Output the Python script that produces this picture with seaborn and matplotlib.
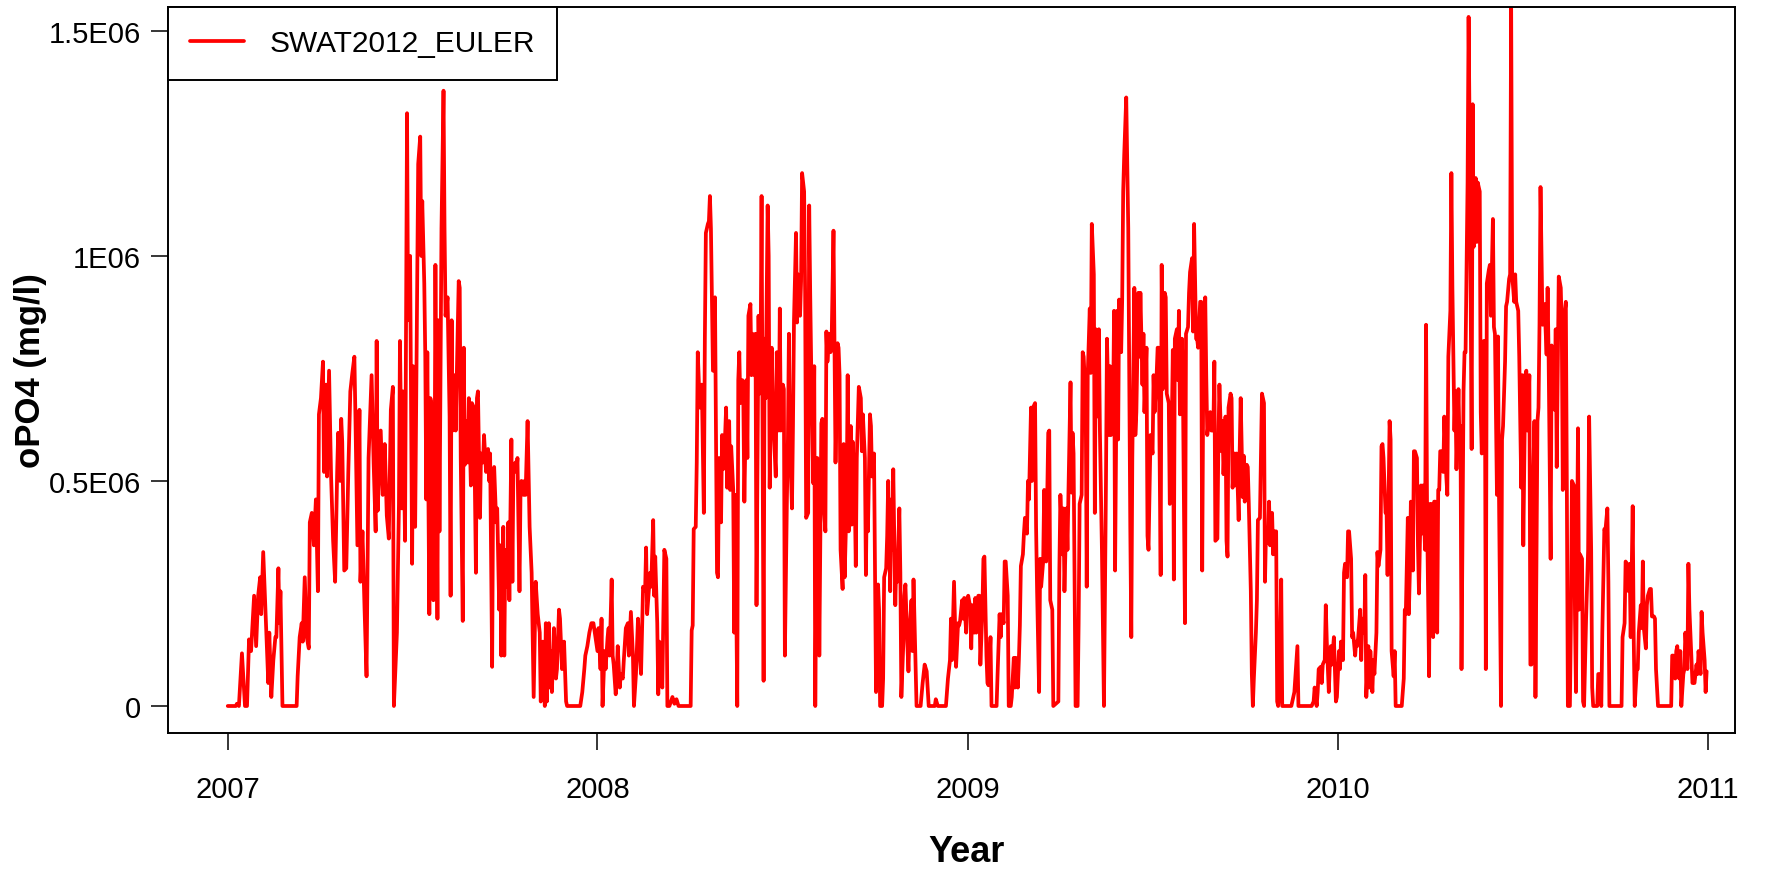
import numpy as np
import pandas as pd
import matplotlib
matplotlib.use("Agg")
import matplotlib.pyplot as plt
import matplotlib.dates as mdates
import seaborn as sns

# Simulated daily orthophosphate (SWAT2012, Euler scheme).
# doy_YYYY: day of year (0 = 1 January); opo4_YYYY: value in thousands of mg/l.
doy_2007 = [0, 8, 9, 11, 14, 17, 19, 21, 23, 26, 28, 30, 32, 33, 35, 37, 38, 40, 41, 43,
            45, 47, 48, 50, 51, 52, 54, 68, 69, 71, 73, 74, 76, 78, 80, 81, 83, 85, 87, 89,
            90, 92, 94, 95, 97, 98, 100, 102, 104, 106, 108, 109, 111, 112, 113, 115, 117, 119, 121, 123,
            125, 126, 128, 130, 131, 133, 135, 137, 139, 142, 144, 146, 147, 148, 151, 153, 155, 157, 159, 161,
            163, 164, 167, 169, 170, 172, 173, 175, 177, 178, 180, 181, 182, 183, 185, 187, 188, 190, 191, 192,
            194, 195, 196, 197, 199, 200, 201, 203, 204, 205, 207, 208, 209, 211, 213, 214, 215, 217, 219, 220,
            221, 222, 224, 225, 226, 228, 229, 230, 232, 233, 234, 236, 237, 238, 240, 241, 243, 245, 246, 247,
            249, 250, 252, 253, 255, 257, 258, 259, 261, 262, 263, 265, 266, 268, 269, 270, 272, 273, 274, 276,
            277, 278, 280, 281, 282, 284, 285, 286, 288, 289, 290, 292, 293, 294, 296, 298, 300, 302, 304, 306,
            308, 309, 311, 313, 314, 315, 317, 318, 319, 320, 322, 324, 325, 327, 328, 330, 332, 334, 335, 348,
            350, 352, 353, 355, 357, 359, 361, 363]
opo4_2007 = [0, 0, 5, 0, 117, 0, 0, 148, 122, 245, 133, 245, 286, 204, 342, 224, 163, 51, 163, 20,
             102, 153, 153, 306, 184, 255, 0, 0, 66, 153, 184, 143, 286, 153, 128, 408, 429, 357, 459, 255,
             648, 684, 765, 520, 714, 510, 745, 510, 367, 276, 520, 607, 500, 638, 587, 301, 306, 520, 699, 740,
             776, 648, 357, 658, 276, 388, 219, 66, 551, 735, 541, 388, 811, 434, 612, 469, 582, 423, 372, 658,
             709, 0, 163, 449, 811, 439, 699, 367, 1317, 857, 1000, 653, 316, 755, 398, 929, 1204, 1265, 1000, 1122,
             939, 776, 459, 786, 204, 684, 673, 235, 357, 980, 194, 857, 388, 1061, 1367, 1061, 867, 908, 643, 245,
             857, 612, 735, 612, 724, 944, 929, 551, 189, 796, 536, 633, 541, 684, 490, 673, 663, 296, 684, 699,
             418, 561, 541, 602, 520, 571, 500, 561, 87, 500, 531, 408, 439, 214, 357, 112, 398, 112, 347, 265,
             408, 235, 592, 276, 531, 541, 520, 551, 255, 474, 500, 469, 500, 469, 633, 398, 296, 20, 276, 204,
             163, 10, 143, 0, 184, 10, 184, 41, 122, 31, 173, 61, 82, 214, 194, 82, 143, 10, 0, 0,
             31, 82, 112, 133, 163, 184, 184, 153]

doy_2008 = [0, 1, 3, 4, 5, 7, 8, 10, 11, 12, 14, 15, 16, 18, 19, 20, 22, 23, 25, 26,
            28, 30, 31, 32, 33, 35, 36, 38, 40, 41, 43, 45, 47, 48, 49, 51, 52, 53, 55, 56,
            57, 59, 60, 61, 62, 64, 65, 66, 68, 69, 71, 74, 76, 78, 80, 92, 93, 94, 95, 97,
            98, 99, 101, 102, 103, 105, 106, 107, 109, 110, 111, 112, 114, 115, 116, 118, 119, 120, 122, 123,
            124, 126, 127, 128, 130, 131, 132, 134, 135, 136, 138, 139, 140, 141, 143, 144, 145, 147, 148, 149,
            151, 152, 153, 155, 156, 157, 159, 160, 161, 162, 164, 165, 166, 168, 169, 170, 172, 173, 174, 176,
            177, 179, 180, 181, 183, 184, 185, 187, 188, 189, 190, 192, 193, 194, 196, 197, 198, 200, 201, 202,
            204, 205, 206, 208, 209, 210, 211, 213, 214, 215, 217, 218, 219, 221, 222, 223, 225, 226, 227, 229,
            230, 231, 233, 234, 235, 237, 238, 239, 240, 242, 243, 244, 246, 247, 248, 250, 251, 252, 254, 255,
            256, 258, 260, 261, 262, 264, 265, 266, 267, 269, 270, 271, 273, 274, 275, 277, 278, 279, 281, 282,
            283, 285, 286, 287, 289, 290, 291, 292, 294, 295, 296, 298, 299, 300, 302, 303, 304, 306, 307, 308,
            310, 311, 312, 314, 315, 319, 321, 323, 325, 327, 333, 334, 336, 344, 346, 348, 349, 350, 352, 353,
            354, 356, 357, 358, 360, 361, 362, 364, 365]
opo4_2008 = [122, 173, 82, 194, 0, 122, 82, 153, 173, 112, 281, 112, 92, 26, 71, 133, 41, 71, 61, 102,
             173, 184, 112, 163, 209, 112, 0, 71, 194, 143, 71, 265, 255, 352, 204, 265, 296, 265, 413, 245,
             332, 184, 26, 143, 82, 41, 194, 347, 327, 0, 0, 20, 5, 15, 0, 0, 168, 179, 393, 398,
             541, 786, 663, 704, 714, 429, 816, 1051, 1071, 1077, 1133, 1061, 745, 745, 908, 296, 286, 551, 408, 602,
             526, 602, 663, 485, 633, 480, 577, 480, 163, 469, 0, 724, 786, 673, 724, 679, 454, 724, 551, 867,
             893, 735, 827, 735, 827, 224, 867, 694, 755, 1133, 56, 816, 684, 1112, 1000, 485, 796, 694, 612, 510,
             786, 612, 883, 612, 714, 704, 112, 459, 592, 827, 592, 439, 622, 857, 1051, 852, 959, 867, 944, 1184,
             1143, 918, 418, 429, 1112, 918, 755, 495, 755, 0, 551, 541, 112, 628, 638, 459, 388, 832, 765, 827,
             786, 791, 1056, 796, 541, 806, 796, 735, 347, 260, 582, 286, 459, 735, 388, 622, 403, 587, 469, 311,
             551, 709, 684, 566, 648, 551, 291, 500, 388, 648, 622, 510, 561, 286, 31, 270, 214, 0, 0, 61,
             286, 306, 378, 500, 255, 459, 347, 526, 224, 316, 276, 439, 296, 20, 143, 245, 270, 133, 77, 163,
             235, 122, 281, 92, 0, 0, 51, 92, 77, 0, 0, 15, 0, 0, 61, 102, 194, 102, 276, 184,
             87, 184, 179, 189, 235, 194, 240, 163, 240]

doy_2009 = [0, 2, 3, 4, 6, 7, 8, 10, 11, 12, 14, 15, 16, 18, 19, 20, 22, 23, 28, 29,
            31, 32, 33, 35, 36, 37, 39, 40, 42, 43, 45, 46, 47, 49, 50, 51, 52, 54, 55, 56,
            58, 59, 60, 62, 63, 64, 66, 67, 68, 70, 71, 72, 74, 75, 76, 77, 79, 80, 81, 83,
            84, 89, 90, 91, 93, 94, 95, 97, 98, 99, 101, 102, 103, 104, 106, 108, 109, 110, 112, 113,
            114, 116, 117, 118, 120, 121, 122, 124, 125, 126, 127, 129, 130, 132, 134, 136, 137, 139, 140, 141,
            143, 144, 145, 147, 148, 149, 151, 152, 153, 154, 156, 157, 158, 160, 161, 162, 164, 165, 166, 168,
            169, 170, 172, 173, 174, 176, 177, 178, 180, 182, 183, 184, 186, 187, 188, 190, 191, 192, 194, 195,
            196, 198, 199, 200, 202, 203, 204, 206, 207, 208, 209, 211, 212, 214, 215, 217, 218, 219, 221, 222,
            223, 225, 226, 227, 229, 230, 231, 232, 234, 235, 236, 238, 239, 240, 242, 243, 244, 246, 247, 248,
            250, 251, 252, 254, 255, 256, 257, 259, 260, 261, 263, 264, 265, 267, 268, 269, 271, 272, 273, 275,
            276, 277, 279, 280, 281, 282, 284, 285, 286, 288, 289, 290, 292, 293, 294, 296, 297, 298, 300, 301,
            302, 304, 305, 306, 307, 309, 310, 319, 320, 322, 323, 325, 326, 339, 341, 342, 344, 345, 346, 348,
            349, 350, 352, 353, 354, 356, 357, 358, 359, 361, 363, 364]
opo4_2009 = [245, 219, 128, 224, 163, 240, 163, 245, 245, 92, 214, 327, 332, 112, 51, 46, 153, 0, 0, 71,
             204, 153, 204, 184, 321, 321, 245, 0, 0, 20, 107, 41, 107, 41, 102, 179, 311, 337, 383, 418,
             383, 500, 459, 663, 500, 663, 673, 398, 255, 31, 327, 265, 321, 480, 327, 321, 607, 612, 235, 214,
             0, 10, 306, 469, 337, 439, 255, 439, 347, 480, 719, 474, 607, 561, 0, 0, 184, 449, 469, 786,
             776, 673, 265, 735, 883, 740, 1071, 959, 429, 837, 643, 837, 612, 347, 0, 500, 816, 602, 755, 602,
             653, 878, 301, 878, 592, 903, 786, 903, 1143, 1224, 1352, 1214, 1061, 398, 153, 551, 929, 602, 653, 918,
             776, 918, 714, 827, 653, 796, 378, 347, 602, 561, 735, 653, 735, 796, 796, 291, 980, 704, 918, 908,
             694, 673, 449, 459, 791, 281, 816, 837, 724, 878, 648, 816, 699, 184, 827, 842, 918, 964, 995, 832,
             1071, 816, 816, 796, 898, 898, 301, 704, 908, 735, 602, 648, 653, 612, 612, 765, 367, 372, 592, 714,
             566, 633, 515, 643, 367, 332, 663, 694, 684, 485, 561, 490, 561, 413, 566, 684, 464, 556, 454, 536,
             531, 449, 255, 71, 0, 61, 163, 235, 413, 418, 551, 694, 673, 276, 388, 362, 454, 357, 429, 337,
             388, 388, 10, 0, 31, 281, 0, 0, 10, 31, 66, 133, 0, 0, 10, 41, 0, 31, 82, 87,
             51, 92, 102, 224, 143, 31, 92, 133, 92, 153, 10, 20]

doy_2010 = [1, 2, 3, 5, 6, 7, 9, 10, 11, 13, 14, 15, 17, 18, 19, 20, 22, 23, 24, 26,
            27, 28, 30, 31, 32, 34, 35, 36, 38, 39, 40, 42, 43, 44, 45, 47, 48, 49, 51, 52,
            53, 55, 56, 57, 63, 65, 66, 67, 69, 70, 71, 72, 74, 75, 76, 78, 79, 80, 82, 83,
            84, 86, 87, 88, 90, 91, 92, 94, 95, 96, 98, 99, 100, 101, 103, 104, 105, 107, 108, 109,
            111, 112, 113, 115, 116, 117, 119, 120, 121, 122, 124, 125, 126, 128, 129, 130, 132, 133, 134, 136,
            137, 138, 140, 141, 142, 144, 145, 146, 147, 149, 150, 151, 153, 154, 155, 157, 158, 159, 161, 162,
            163, 165, 166, 167, 169, 170, 171, 172, 174, 175, 176, 178, 179, 181, 182, 183, 185, 186, 187, 189,
            190, 191, 193, 194, 195, 197, 198, 199, 200, 202, 203, 204, 206, 207, 208, 210, 211, 212, 214, 215,
            216, 218, 220, 221, 222, 224, 225, 226, 227, 229, 230, 231, 233, 234, 235, 237, 238, 239, 241, 242,
            243, 245, 247, 248, 250, 251, 252, 256, 257, 258, 260, 261, 263, 264, 266, 267, 268, 280, 281, 283,
            284, 285, 287, 288, 289, 291, 292, 293, 295, 296, 297, 299, 300, 301, 302, 304, 305, 306, 308, 309,
            310, 312, 313, 314, 316, 329, 330, 331, 333, 334, 335, 337, 338, 339, 341, 342, 343, 345, 346, 347,
            349, 350, 351, 352, 354, 355, 356, 358, 359, 360, 362, 363, 364]
opo4_2010 = [122, 82, 143, 102, 296, 316, 286, 388, 388, 327, 153, 163, 112, 143, 133, 153, 214, 102, 194, 163,
             291, 20, 133, 41, 122, 31, 102, 71, 163, 342, 311, 347, 577, 582, 551, 429, 434, 291, 633, 592,
             122, 66, 122, 0, 0, 61, 214, 204, 418, 204, 296, 454, 301, 566, 566, 551, 357, 250, 490, 383,
             490, 347, 847, 429, 66, 449, 449, 153, 454, 454, 163, 480, 480, 566, 566, 520, 643, 510, 469, 776,
             878, 1184, 929, 612, 699, 526, 704, 587, 622, 82, 699, 786, 786, 1163, 1531, 1276, 571, 1337, 1020, 1173,
             1031, 1163, 1143, 653, 561, 811, 811, 82, 939, 969, 980, 867, 1082, 842, 827, 469, 821, 469, 0, 592,
             622, 765, 888, 898, 949, 959, 1560, 959, 898, 959, 898, 878, 776, 485, 735, 357, 735, 745, 612, 735,
             92, 92, 531, 633, 20, 633, 663, 847, 1153, 847, 857, 893, 781, 929, 776, 327, 801, 663, 658, 837,
             531, 954, 929, 837, 480, 878, 898, 480, 0, 0, 194, 500, 490, 204, 31, 617, 214, 337, 327, 10,
             0, 194, 347, 643, 347, 41, 0, 0, 71, 71, 0, 163, 393, 388, 439, 276, 0, 0, 153, 184,
             321, 316, 255, 316, 153, 444, 153, 0, 82, 82, 163, 224, 173, 321, 173, 128, 224, 245, 260, 260,
             199, 199, 194, 82, 0, 0, 112, 112, 61, 122, 133, 61, 122, 0, 71, 82, 163, 82, 316, 214,
             102, 51, 56, 51, 92, 71, 122, 71, 209, 163, 102, 31, 77]

years = [2007, 2008, 2009, 2010]
doy_by_year = [doy_2007, doy_2008, doy_2009, doy_2010]
opo4_by_year = [opo4_2007, opo4_2008, opo4_2009, opo4_2010]

year_ticks = [2007, 2008, 2009, 2010, 2011]
y_ticks = [0, 0.5e6, 1.0e6, 1.5e6]
y_tick_labels = ["0", "0.5E06", "1E06", "1.5E06"]
series_name = "SWAT2012_EULER"

frames = []
for yr, days, vals in zip(years, doy_by_year, opo4_by_year):
    start = pd.Timestamp(f"{yr}-01-01")
    frames.append(pd.DataFrame({
        "date": start + pd.to_timedelta(days, unit="D"),
        "opo4": np.asarray(vals, dtype=float) * 1000.0,
    }))
df = pd.concat(frames, ignore_index=True)

sns.set_style("ticks", {
    "axes.edgecolor": "black",
    "xtick.color": "black",
    "ytick.color": "black",
    "text.color": "black",
    "axes.labelcolor": "black",
})
plt.rcParams["font.family"] = ["Liberation Sans", "DejaVu Sans"]

W, H = 1771, 870
fig = plt.figure(figsize=(W / 100, H / 100), dpi=100)
left, right, top, bottom = 168, 1735, 8, 734
ax = fig.add_axes([left / W, 1 - bottom / H, (right - left) / W, (bottom - top) / H])

line_w = 2.7
sns.lineplot(data=df, x="date", y="opo4", ax=ax, color="#ff0000", linewidth=line_w,
             label=series_name, estimator=None, sort=False)

ax.set_xlim(pd.Timestamp("2006-11-03"), pd.Timestamp("2011-01-28"))
ax.set_ylim(-0.06e6, 1.553e6)

ax.set_xticks([pd.Timestamp(f"{y}-01-01") for y in year_ticks])
ax.xaxis.set_major_formatter(mdates.DateFormatter("%Y"))
ax.set_yticks(y_ticks)
ax.set_yticklabels(y_tick_labels)

for side in ["top", "right", "bottom", "left"]:
    ax.spines[side].set_visible(True)
    ax.spines[side].set_linewidth(1.4)
    ax.spines[side].set_color("black")

ax.tick_params(axis="x", direction="out", length=12.5, width=1.1, labelsize=21, pad=18)
ax.tick_params(axis="y", direction="out", length=12.5, width=1.1, labelsize=21, pad=7)

ax.set_xlabel("Year", fontsize=26, fontweight="bold", va="baseline")
ax.xaxis.set_label_coords((967 - left) / (right - left), (bottom - 862) / (bottom - top))
ax.set_ylabel("oPO4 (mg/l)", fontsize=25, fontweight="bold", va="center", ha="center")
ax.yaxis.set_label_coords((31 - left) / (right - left), 0.5)

leg = ax.legend(loc="upper left", bbox_to_anchor=(0, 1), borderaxespad=0,
                frameon=True, fancybox=False, framealpha=1, edgecolor="black",
                fontsize=21.5, handlelength=1.8, handletextpad=0.85, borderpad=0.75)
leg.get_frame().set_linewidth(1.4)
for line in leg.get_lines():
    line.set_linewidth(line_w)

fig.savefig("out.png", dpi=100, facecolor="white")
